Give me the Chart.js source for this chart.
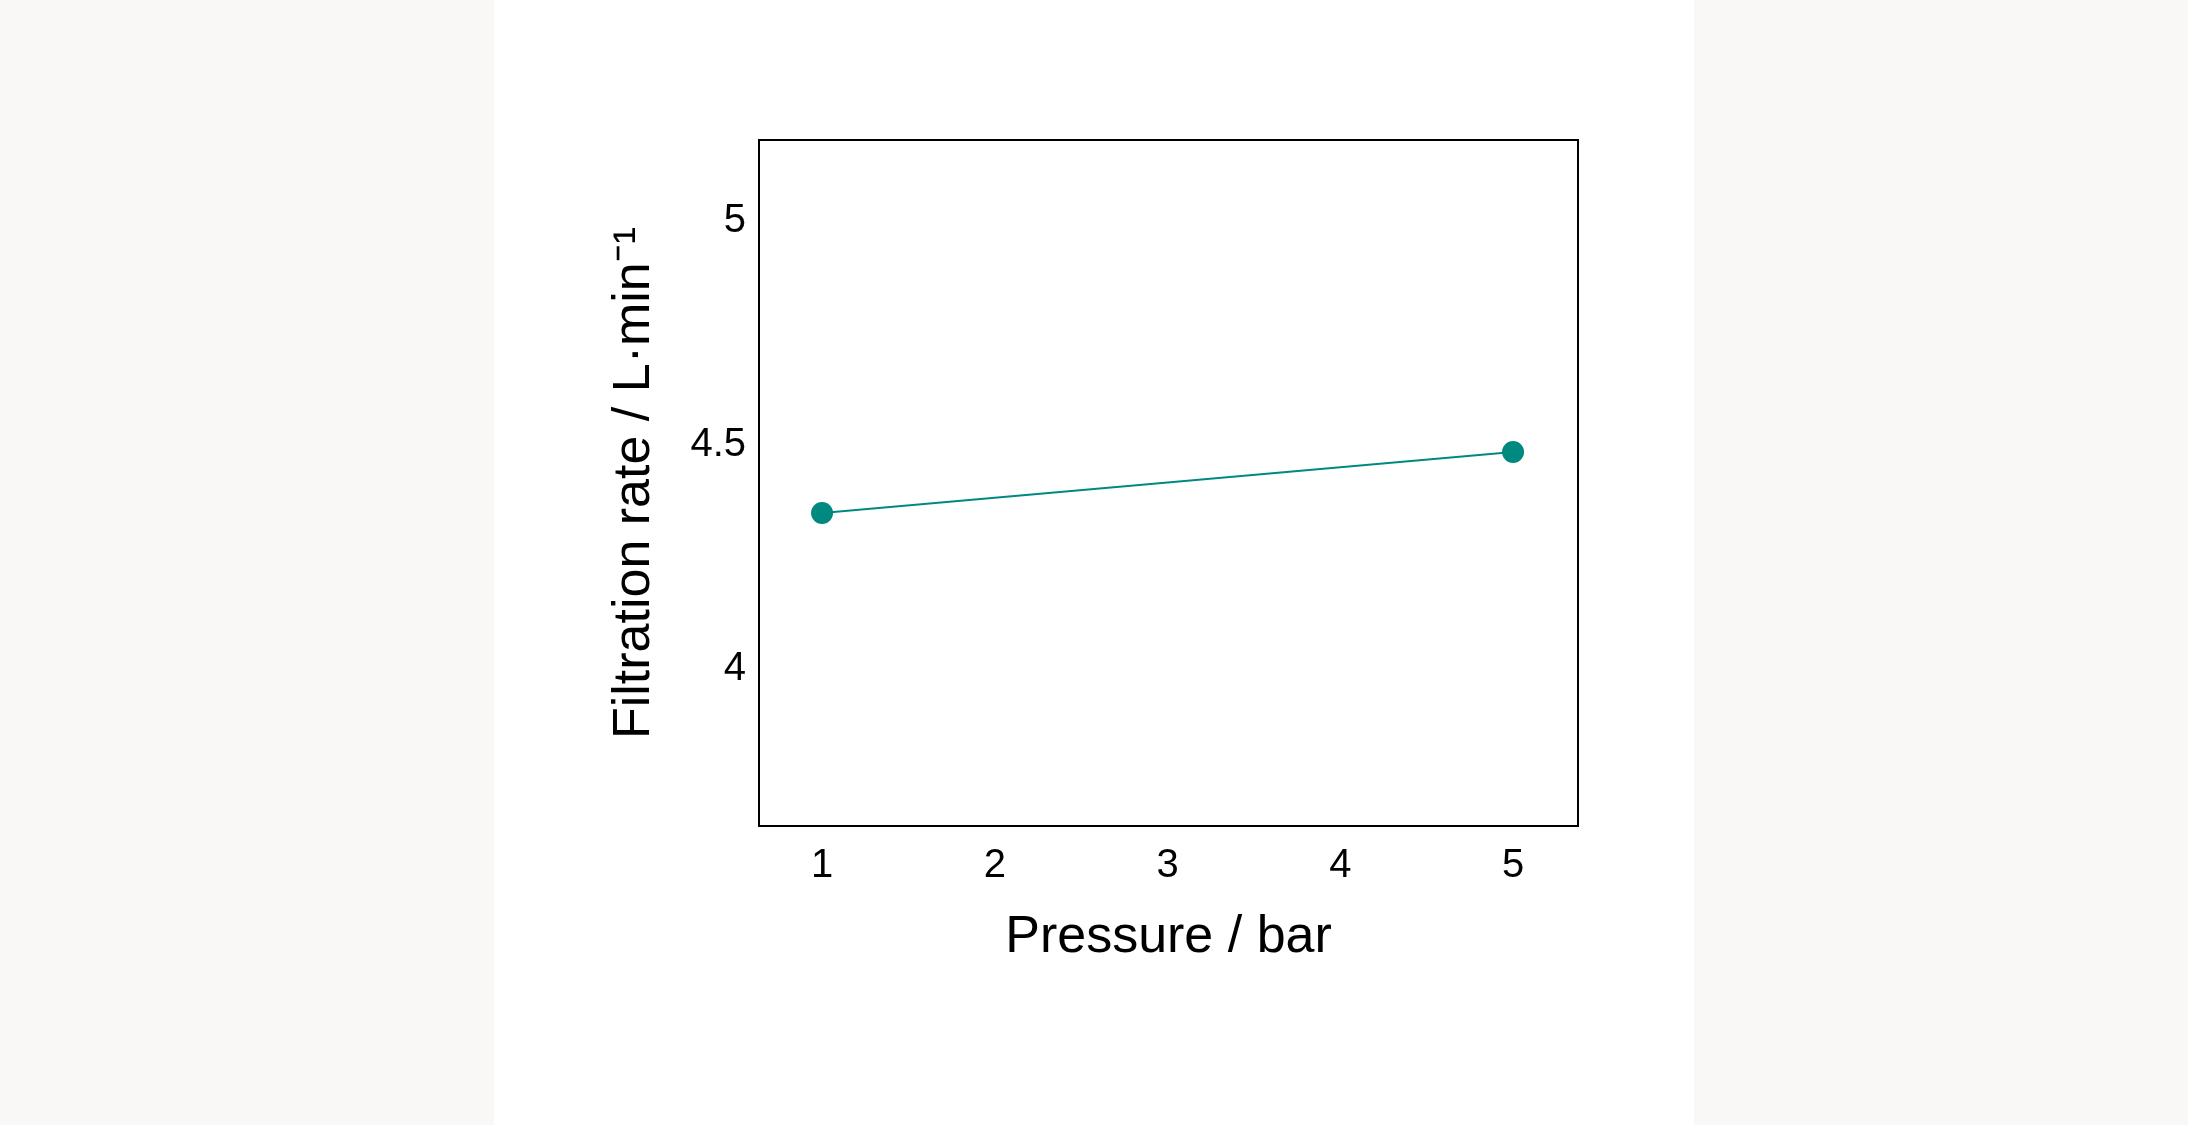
<!DOCTYPE html>
<html><head><meta charset="utf-8">
<script src="https://cdn.jsdelivr.net/npm/chart.js@4/dist/chart.umd.min.js"></script>
<style>
html,body{margin:0;padding:0;width:2188px;height:1125px;overflow:hidden;
background:linear-gradient(to right,#f9f8f7 0,#f9f8f7 494px,#fff 494px,#fff 1694px,#f9f8f7 1694px);}
#c{position:absolute;left:0;top:0;}
</style></head><body>
<div style="position:absolute;left:0;top:0;width:2188px;height:1125px"><canvas id="c"></canvas></div>
<script>
const pressures = [1, 5];
const rates = [4.348, 4.484];
const xTicks = [1, 2, 3, 4, 5];
const yTicks = [4, 4.5, 5];
const xTitle = 'Pressure / bar';
const yTitle = 'Filtration rate / L·min⁻¹';

const boxPlugin = {id:'box', afterDraw(c){const a=c.chartArea,x=c.ctx;x.save();x.strokeStyle='#000';x.lineWidth=2;x.strokeRect(a.left,a.top,a.right-a.left,a.bottom-a.top);x.restore();}};
const font = {family:'"Liberation Sans", Arial, sans-serif', size:40};
new Chart(document.getElementById('c'), {
  type:'scatter',
  data:{datasets:[{data:pressures.map((p,i)=>({x:p,y:rates[i]})), showLine:true,
    borderColor:'#00897f', backgroundColor:'#00897f', borderWidth:2, pointRadius:10, pointHoverRadius:10}]},
  options:{responsive:true, maintainAspectRatio:false, animation:false, devicePixelRatio:1,
    layout:{padding:{left:599,right:610,top:140,bottom:152}},
    plugins:{legend:{display:false},tooltip:{enabled:false}},
    scales:{
      x:{type:'linear',min:0.635,max:5.376,
        afterBuildTicks:s=>{s.ticks=xTicks.map(v=>({value:v}));},
        afterFit:s=>{s.height=147;},
        grid:{display:false,drawTicks:false}, border:{display:false},
        ticks:{color:'#000',font,padding:16,callback:v=>String(v)},
        title:{display:true,text:xTitle,color:'#000',font:{family:font.family,size:52},padding:{top:10}}},
      y:{type:'linear',min:3.65,max:5.18,
        afterBuildTicks:s=>{s.ticks=yTicks.map(v=>({value:v}));},
        afterFit:s=>{s.width=160;},
        grid:{display:false,drawTicks:false}, border:{display:false},
        ticks:{color:'#000',font,padding:13,callback:v=>String(v)},
        title:{display:true,text:yTitle,color:'#000',font:{family:font.family,size:52},padding:{bottom:10}}}
    }},
  plugins:[boxPlugin]
});
</script></body></html>
